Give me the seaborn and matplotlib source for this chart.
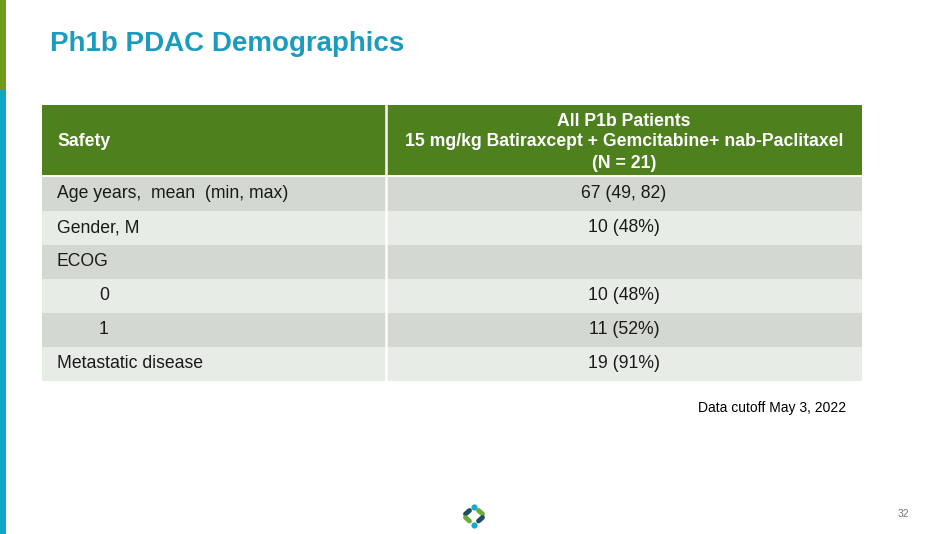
import matplotlib
matplotlib.use("Agg")
import matplotlib.pyplot as plt
import seaborn as sns
import numpy as np
import pandas as pd
from matplotlib.patches import Rectangle

sns.set_theme(style="white")
plt.rcParams['font.family'] = ['Liberation Sans', 'DejaVu Sans']

# ---- data ----
title = "Ph1b PDAC Demographics"
header_left = "Safety"
header_right = ["All P1b Patients",
                "15 mg/kg Batiraxcept + Gemcitabine+ nab-Paclitaxel",
                "(N = 21)"]
row_labels = ["Age years,  mean  (min, max)", "Gender, M", "ECOG",
              "0", "1", "Metastatic disease"]
row_indent = [False, False, False, True, True, False]
row_values = ["67 (49, 82)", "10 (48%)", "", "10 (48%)", "11 (52%)", "19 (91%)"]
footnote = "Data cutoff May 3, 2022"
page_no = "32"

W, H = 950, 534
fig = plt.figure(figsize=(W / 100, H / 100), dpi=100)
fig.patch.set_facecolor("white")

# left accent bars
fig.add_artist(Rectangle((0, 1 - 90 / H), 6 / W, 90 / H, transform=fig.transFigure,
                         color="#6f9a1c", lw=0))
fig.add_artist(Rectangle((0, 0), 6 / W, 1 - 90 / H, transform=fig.transFigure,
                         color="#10a4c9", lw=0))

fig.text(50 / W, 1 - 44 / H, title, color="#1b9bbd", fontsize=20, fontweight="bold",
         va="center", ha="left")

# table axes in pixel-like data coords
tl, tr, tt, tb = 42, 862, 105, 381
ax = fig.add_axes([tl / W, 1 - tb / H, (tr - tl) / W, (tb - tt) / H])
ax.set_xlim(0, tr - tl)
ax.set_ylim(tb - tt, 0)
ax.axis("off")

col_split = 386 - tl
header_h = 70
row_top = 72
row_h = (tb - tt - row_top) / len(row_labels)
green = "#4e801e"
dark = "#d3d9d0"
light = "#e8ece7"
fs = 12.7

ax.barh([header_h / 2], [tr - tl], height=header_h, left=0, color=green, lw=0)
for i, (lab, val) in enumerate(zip(row_labels, row_values)):
    yc = row_top + row_h * (i + 0.5)
    ax.barh([yc], [tr - tl], height=row_h, left=0,
            color=dark if i % 2 == 0 else light, lw=0)
    x = 99 - tl if row_indent[i] else 57 - tl
    ax.text(x, yc, lab, fontsize=fs, color="#1a1a1a", va="center", ha="left")
    ax.text((col_split + tr - tl) / 2, yc, val, fontsize=fs, color="#1a1a1a",
            va="center", ha="center")
ax.axvline(col_split, color="white", lw=1.8)

ax.text(57 - tl, header_h / 2 + 1, header_left, fontsize=fs, fontweight="bold",
        color="white", va="center", ha="left")
for j, line in enumerate(header_right):
    ax.text((col_split + tr - tl) / 2, 16 + 21 * j, line, fontsize=fs,
            fontweight="bold", color="white", va="center", ha="center")

fig.text(846 / W, 1 - 408 / H, footnote, fontsize=10, color="black",
         ha="right", va="center")
fig.text(909 / W, 1 - 514 / H, page_no, fontsize=7.5, color="#777777",
         ha="right", va="center")

# small logo
lax = fig.add_axes([458 / W, 1 - 532 / H, 32 / W, 32 / H])
lax.set_xlim(-16, 16)
lax.set_ylim(-16, 16)
lax.axis("off")
lax.scatter([0, 0], [9.5, -8.5], s=20, color="#19a9cf", lw=0)
lax.plot([-4.5, -8.5], [5.5, 2], color="#1f4e5f", lw=3.5, solid_capstyle="round")
lax.plot([-8.5, -4.5], [-1.5, -5], color="#6aab3a", lw=3.5, solid_capstyle="round")
lax.plot([4.5, 8.5], [5.5, 2], color="#6aab3a", lw=3.5, solid_capstyle="round")
lax.plot([8.5, 4.5], [-1.5, -5], color="#1f4e5f", lw=3.5, solid_capstyle="round")

fig.savefig("out.png", dpi=100, facecolor="white")
